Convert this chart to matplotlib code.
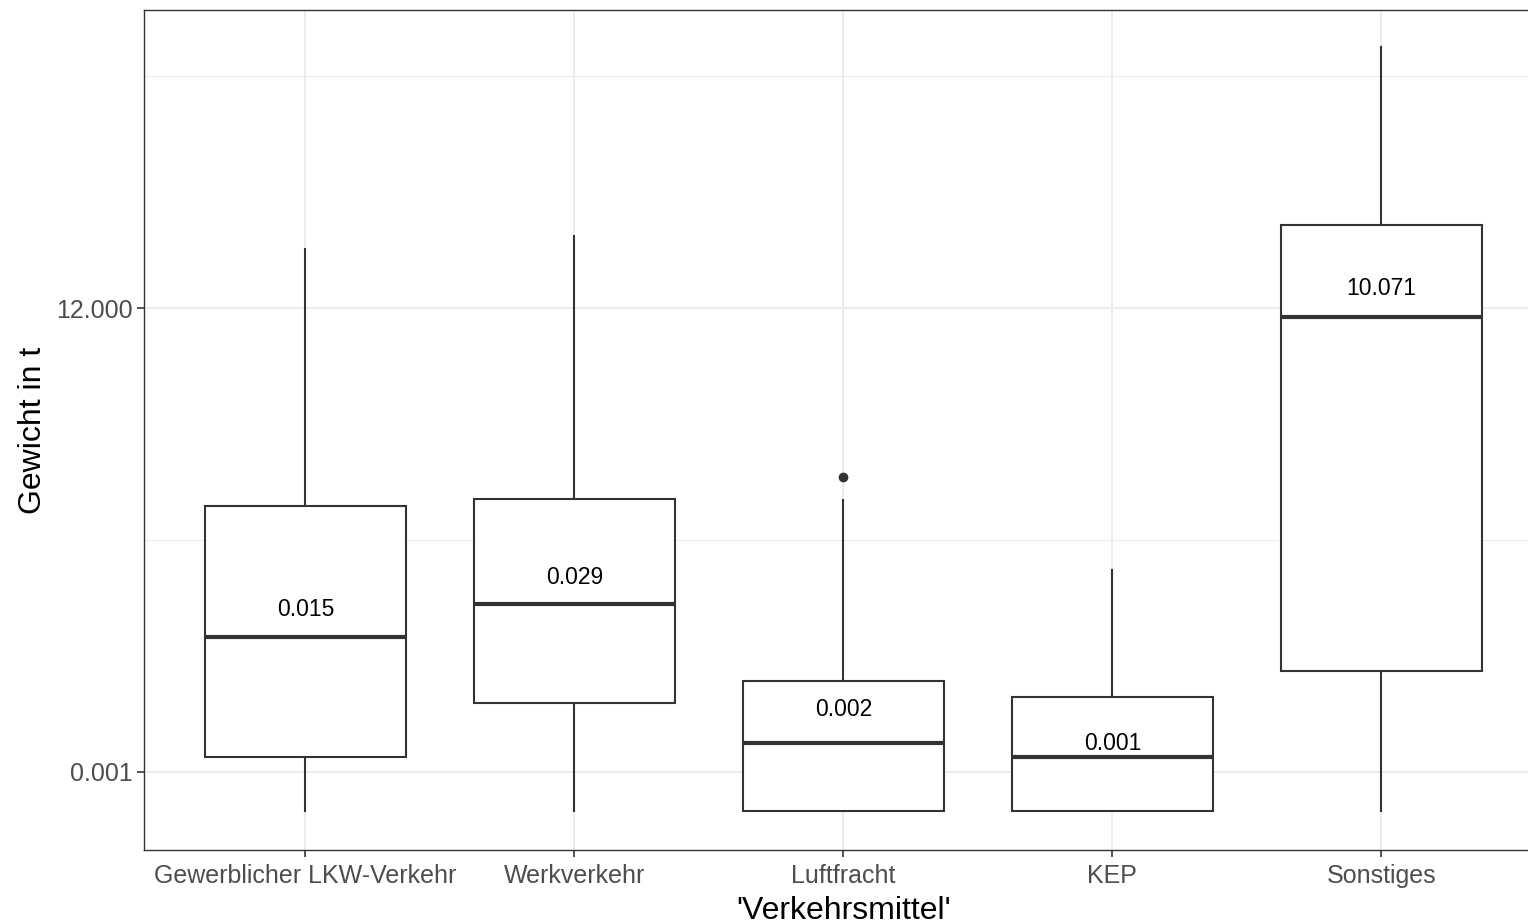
import numpy as np
import matplotlib
matplotlib.use("Agg")
import matplotlib.pyplot as plt

plt.rcParams['font.family'] = ['Liberation Sans', 'DejaVu Sans']

kategorien = ["Gewerblicher LKW-Verkehr", "Werkverkehr", "Luftfracht", "KEP", "Sonstiges"]
whisker_unten = [0.00045, 0.00045, 0.00045, 0.00045, 0.00045]
q1 = [0.00136, 0.00405, 0.00045, 0.00045, 0.0077]
median = [0.0154, 0.030, 0.0018, 0.00136, 10.1]
q3 = [0.218, 0.251, 0.0063, 0.0046, 64.4]
whisker_oben = [39.6, 51.5, 0.246, 0.060, 2365]
ausreisser = [[], [], [0.392], [], []]
median_label = ["0.015", "0.029", "0.002", "0.001", "10.071"]

stats = []
for i in range(len(kategorien)):
    stats.append({"whislo": whisker_unten[i], "q1": q1[i], "med": median[i],
                  "q3": q3[i], "whishi": whisker_oben[i], "fliers": ausreisser[i]})

fig = plt.figure(figsize=(15.28, 9.24), dpi=100)
links = 144 / 1528
unten = (924 - 850) / 924
hoehe = 840 / 924
breite = 5.2 * 269 / 1528
ax = fig.add_axes([links, unten, breite, hoehe])

dunkel = "#333333"
ax.bxp(stats, positions=range(1, 6), widths=0.75, patch_artist=True,
       boxprops=dict(facecolor="white", edgecolor=dunkel, linewidth=1.5),
       medianprops=dict(color=dunkel, linewidth=3),
       whiskerprops=dict(color=dunkel, linewidth=1.5),
       capprops=dict(linewidth=0),
       flierprops=dict(marker="o", markerfacecolor=dunkel, markeredgecolor=dunkel, markersize=6),
       zorder=3)

# Beschriftung knapp ueber dem Median
for i, txt in enumerate(median_label):
    y = float(txt) * 10 ** 0.25
    ax.text(i + 1, y, txt, ha="center", va="center", fontsize=16.5, color="black", zorder=4)

ax.set_yscale("log")
ax.set_xlim(0.4, 5.6)
ax.set_ylim(10 ** -3.686, 10 ** 3.70)

ax.set_yticks([0.001, 12])
ax.set_yticklabels(["0.001", "12.000"])
ax.yaxis.set_minor_locator(matplotlib.ticker.NullLocator())
ax.set_xticks(range(1, 6))
ax.set_xticklabels(kategorien)

for y in [np.sqrt(0.001 * 12), 12 * np.sqrt(12 / 0.001)]:
    ax.axhline(y, color="#EBEBEB", linewidth=0.8, zorder=0)
for y in [0.001, 12]:
    ax.axhline(y, color="#EBEBEB", linewidth=1.3, zorder=0)
for x in range(1, 6):
    ax.axvline(x, color="#EBEBEB", linewidth=1.3, zorder=0)

for s in ax.spines.values():
    s.set_color(dunkel)
    s.set_linewidth(1.0)

ax.tick_params(axis="both", colors=dunkel, labelcolor="#4D4D4D", labelsize=18, length=5, width=1.2, pad=3)
ax.tick_params(axis="x", pad=5)
ax.set_xlabel("'Verkehrsmittel'", fontsize=23, labelpad=6)
ax.set_ylabel("Gewicht in t", fontsize=23, labelpad=6)

fig.savefig("out.png", dpi=100)
